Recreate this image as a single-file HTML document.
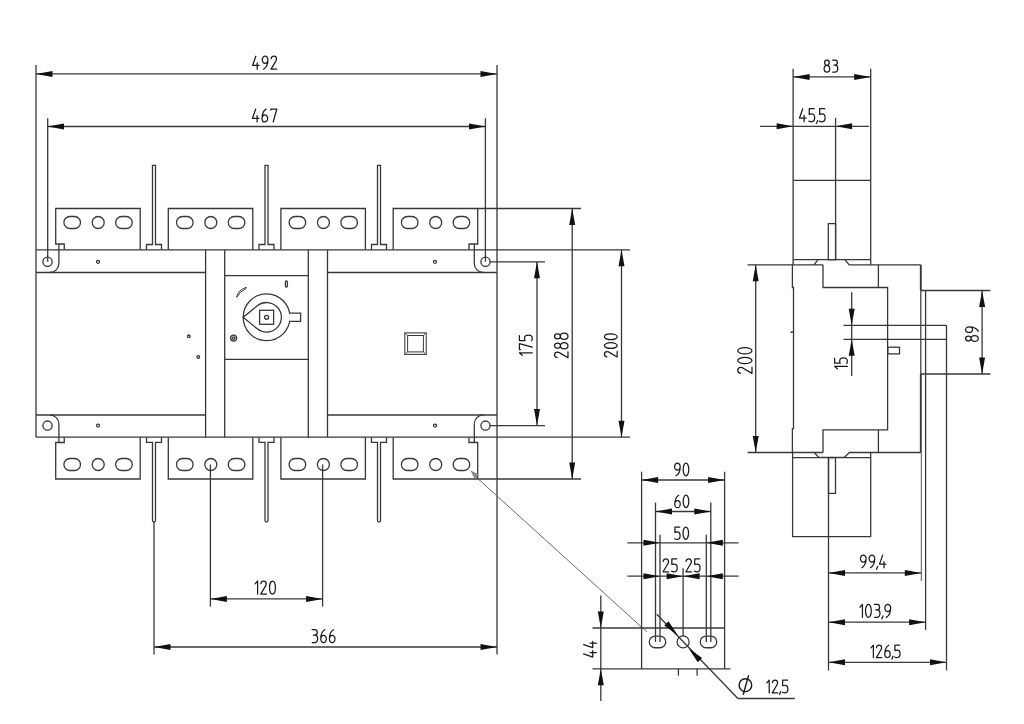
<!DOCTYPE html>
<html><head><meta charset="utf-8"><style>
html,body{margin:0;padding:0;background:#fff;width:1024px;height:724px;overflow:hidden}
svg{display:block}
.t{stroke:#1a1a1a;stroke-linecap:round;stroke-linejoin:round;fill:none}
</style></head><body>
<svg width="1024" height="724" viewBox="0 0 1024 724">
<g fill="none" stroke="#383838" stroke-width="1.3">
<line x1="36" y1="65" x2="36" y2="437.2"/>
<line x1="497" y1="65" x2="497" y2="654.5"/>
<line x1="36" y1="249.8" x2="630" y2="249.8"/>
<line x1="36" y1="437.2" x2="630" y2="437.2"/>
<line x1="36" y1="272.5" x2="205.6" y2="272.5"/>
<line x1="327.5" y1="272.5" x2="497" y2="272.5"/>
<line x1="36" y1="415" x2="205.6" y2="415"/>
<line x1="327.5" y1="415" x2="497" y2="415"/>
<line x1="205.6" y1="249.8" x2="205.6" y2="437.2"/>
<line x1="224.7" y1="249.8" x2="224.7" y2="437.2"/>
<line x1="308.3" y1="249.8" x2="308.3" y2="437.2"/>
<line x1="327.5" y1="249.8" x2="327.5" y2="437.2"/>
<line x1="224.7" y1="275.6" x2="308.3" y2="275.6"/>
<line x1="224.7" y1="359.3" x2="308.3" y2="359.3"/>
<path d="M58.9 244.2 L58.9 263.5 A9 9 0 0 1 49.9 272.5" fill="none"/>
<path d="M474.3 244.2 L474.3 263.5 A9 9 0 0 0 483.3 272.5" fill="none"/>
<path d="M49.9 415 A9 9 0 0 1 58.9 424 L58.9 442.7" fill="none"/>
<path d="M483.3 415 A9 9 0 0 0 474.3 424 L474.3 442.7" fill="none"/>
<circle cx="47.5" cy="261.8" r="4.6"/>
<circle cx="485.5" cy="261.8" r="4.6"/>
<circle cx="47.5" cy="425.6" r="4.6"/>
<circle cx="485.5" cy="425.6" r="4.6"/>
<circle cx="98" cy="261.8" r="1.5"/>
<circle cx="435" cy="261.8" r="1.5"/>
<circle cx="98" cy="425.6" r="1.5"/>
<circle cx="435" cy="425.6" r="1.5"/>
<circle cx="188.8" cy="336.3" r="1.3"/>
<circle cx="198.3" cy="357" r="1.3"/>
<path d="M140.2 249.8 L140.2 208.5 L55.7 208.5 L55.7 244 L64.25 244 L64.25 249.8" fill="none"/>
<path d="M140.2 437.2 L140.2 479 L55.7 479 L55.7 442.5 L64.25 442.5 L64.25 437.2" fill="none"/>
<rect x="63.90" y="216.50" width="16.6" height="12" rx="6.0" ry="6.0"/>
<circle cx="98.2" cy="222.5" r="6"/>
<rect x="115.65" y="216.50" width="16.6" height="12" rx="6.0" ry="6.0"/>
<rect x="63.90" y="458.50" width="16.6" height="12" rx="6.0" ry="6.0"/>
<circle cx="98.2" cy="464.5" r="6"/>
<rect x="115.65" y="458.50" width="16.6" height="12" rx="6.0" ry="6.0"/>
<path d="M168.3 249.8 L168.3 208.5 L252.8 208.5 L252.8 249.8" fill="none"/>
<path d="M168.3 437.2 L168.3 479 L252.8 479 L252.8 437.2" fill="none"/>
<rect x="176.50" y="216.50" width="16.6" height="12" rx="6.0" ry="6.0"/>
<circle cx="210.8" cy="222.5" r="6"/>
<rect x="228.25" y="216.50" width="16.6" height="12" rx="6.0" ry="6.0"/>
<rect x="176.50" y="458.50" width="16.6" height="12" rx="6.0" ry="6.0"/>
<circle cx="210.8" cy="464.5" r="6"/>
<rect x="228.25" y="458.50" width="16.6" height="12" rx="6.0" ry="6.0"/>
<path d="M280.9 249.8 L280.9 208.5 L365.4 208.5 L365.4 249.8" fill="none"/>
<path d="M280.9 437.2 L280.9 479 L365.4 479 L365.4 437.2" fill="none"/>
<rect x="289.10" y="216.50" width="16.6" height="12" rx="6.0" ry="6.0"/>
<circle cx="323.4" cy="222.5" r="6"/>
<rect x="340.85" y="216.50" width="16.6" height="12" rx="6.0" ry="6.0"/>
<rect x="289.10" y="458.50" width="16.6" height="12" rx="6.0" ry="6.0"/>
<circle cx="323.4" cy="464.5" r="6"/>
<rect x="340.85" y="458.50" width="16.6" height="12" rx="6.0" ry="6.0"/>
<path d="M393.2 249.8 L393.2 208.5 L477.7 208.5 L477.7 244 L469 244 L469 249.8" fill="none"/>
<path d="M393.2 437.2 L393.2 479 L477.7 479 L477.7 442.5 L469 442.5 L469 437.2" fill="none"/>
<rect x="401.40" y="216.50" width="16.6" height="12" rx="6.0" ry="6.0"/>
<circle cx="435.7" cy="222.5" r="6"/>
<rect x="453.15" y="216.50" width="16.6" height="12" rx="6.0" ry="6.0"/>
<rect x="401.40" y="458.50" width="16.6" height="12" rx="6.0" ry="6.0"/>
<circle cx="435.7" cy="464.5" r="6"/>
<rect x="453.15" y="458.50" width="16.6" height="12" rx="6.0" ry="6.0"/>
<path d="M146.5 249.8 L146.5 244.5 L152.5 244.5 L152.5 165.4 L155.5 165.4 L155.5 244.5 L161.5 244.5 L161.5 249.8" fill="none"/>
<path d="M146.5 437.2 L146.5 442.3 L152.5 442.3 L152.5 520.5 A1.5 1.5 0 0 0 155.5 520.5 L155.5 442.3 L161.5 442.3 L161.5 437.2" fill="none"/>
<path d="M259 249.8 L259 244.5 L265 244.5 L265 165.4 L268 165.4 L268 244.5 L274 244.5 L274 249.8" fill="none"/>
<path d="M259 437.2 L259 442.3 L265 442.3 L265 520.5 A1.5 1.5 0 0 0 268 520.5 L268 442.3 L274 442.3 L274 437.2" fill="none"/>
<path d="M371.5 249.8 L371.5 244.5 L377.5 244.5 L377.5 165.4 L380.5 165.4 L380.5 244.5 L386.5 244.5 L386.5 249.8" fill="none"/>
<path d="M371.5 437.2 L371.5 442.3 L377.5 442.3 L377.5 520.5 A1.5 1.5 0 0 0 380.5 520.5 L380.5 442.3 L386.5 442.3 L386.5 437.2" fill="none"/>
<circle cx="266.6" cy="317.3" r="23.4"/>
<path d="M289.1 313.1 L300.6 313.1 L300.6 321.3 L289.20000000000005 321.3" fill="#fff"/>
<path d="M243.2 317.3 L257.24 305.84 A14.8 14.8 0 1 1 257.24 328.76 Z" fill="none"/>
<rect x="259.6" y="310.3" width="14.00" height="14.00"/>
<circle cx="266.6" cy="317.3" r="2"/>
<path d="M236.6 297.2 Q237.8 290 246.3 287.3 L245.6 289 Q239.8 291.2 237.4 296.6 Z" fill="none" stroke-width="1.0"/>
<rect x="285.4" y="281" width="2" height="6" rx="1"/>
<circle cx="233.6" cy="338.1" r="3"/>
<circle cx="233.6" cy="338.1" r="1.3"/>
<rect x="404.8" y="332.9" width="21.4" height="21.5" stroke-width="1.05"/>
<rect x="407.6" y="335.5" width="15.8" height="16.4" stroke-width="1.0"/>
<line x1="404.8" y1="332.9" x2="407.6" y2="335.5" stroke-width="0.8"/>
<line x1="426.2" y1="332.9" x2="423.4" y2="335.5" stroke-width="0.8"/>
<line x1="404.8" y1="354.4" x2="407.6" y2="351.9" stroke-width="0.8"/>
<line x1="426.2" y1="354.4" x2="423.4" y2="351.9" stroke-width="0.8"/>
<line x1="36" y1="73.9" x2="497" y2="73.9"/>
<path d="M36.00 73.90L52.50 70.90L52.50 76.90Z" fill="#111" stroke="none"/>
<path d="M497.00 73.90L480.50 76.90L480.50 70.90Z" fill="#111" stroke="none"/>
<path class="t" transform="translate(252.60 56.23) scale(0.9962)" stroke-width="1.255" d="M 3.20 0.00 L 0.00 9.30 L 6.50 9.30 M 4.60 6.60 L 4.60 13.00 M9.60 3.60 A2.9 3.6 0 1 1 15.40 3.60 A2.9 3.6 0 1 1 9.60 3.60 M 15.40 3.60 C 15.40 7.80 13.90 11.30 11.00 13.00 M 18.60 2.50 C 18.90 0.80 20.00 0.00 21.30 0.00 C 22.90 0.00 24.00 1.10 24.00 2.80 C 24.00 3.80 23.60 4.60 23.00 5.40 L 18.50 13.00 L 24.20 13.00"/>
<line x1="47.7" y1="118.2" x2="47.7" y2="261.8"/>
<line x1="485.4" y1="118.2" x2="485.4" y2="261.8"/>
<line x1="47.5" y1="126.5" x2="485.5" y2="126.5"/>
<path d="M47.50 126.50L64.00 123.50L64.00 129.50Z" fill="#111" stroke="none"/>
<path d="M485.50 126.50L469.00 129.50L469.00 123.50Z" fill="#111" stroke="none"/>
<path class="t" transform="translate(252.50 109.03) scale(0.9962)" stroke-width="1.255" d="M 3.20 0.00 L 0.00 9.30 L 6.50 9.30 M 4.60 6.60 L 4.60 13.00 M 13.70 0.10 C 11.30 1.50 9.60 4.50 9.60 9.40 M9.60 9.40 A2.8 3.6 0 1 1 15.20 9.40 A2.8 3.6 0 1 1 9.60 9.40 M 18.30 1.00 L 18.30 0.00 L 24.40 0.00 L 20.80 13.00"/>
<line x1="477.5" y1="208.5" x2="581" y2="208.5"/>
<line x1="477.5" y1="479" x2="581" y2="479"/>
<line x1="489.8" y1="261.8" x2="545" y2="261.8"/>
<line x1="489.8" y1="425.6" x2="545" y2="425.6"/>
<line x1="537" y1="261.8" x2="537" y2="425.6"/>
<path d="M537.00 261.80L540.00 278.30L534.00 278.30Z" fill="#111" stroke="none"/>
<path d="M537.00 425.60L534.00 409.10L540.00 409.10Z" fill="#111" stroke="none"/>
<path class="t" transform="translate(519.42 355.23) rotate(-90) scale(0.9885)" stroke-width="1.265" d="M 0.00 2.80 L 2.50 0.00 L 2.50 13.00 M 5.60 1.00 L 5.60 0.00 L 11.70 0.00 L 8.10 13.00 M 19.90 0.00 L 14.90 0.00 L 14.90 5.70 C 15.70 5.30 16.50 5.20 17.30 5.20 C 19.10 5.20 20.30 6.90 20.30 9.10 C 20.30 11.50 19.10 13.00 17.20 13.00 C 16.20 13.00 15.40 12.80 14.60 12.40"/>
<line x1="572.2" y1="208.5" x2="572.2" y2="479"/>
<path d="M572.20 208.50L575.20 225.00L569.20 225.00Z" fill="#111" stroke="none"/>
<path d="M572.20 479.00L569.20 462.50L575.20 462.50Z" fill="#111" stroke="none"/>
<path class="t" transform="translate(554.52 357.76) rotate(-90) scale(1.0346)" stroke-width="1.208" d="M 0.10 2.50 C 0.40 0.80 1.50 0.00 2.80 0.00 C 4.40 0.00 5.50 1.10 5.50 2.80 C 5.50 3.80 5.10 4.60 4.50 5.40 L 0.00 13.00 L 5.70 13.00 M9.20 2.85 A2.5 2.85 0 1 1 14.20 2.85 A2.5 2.85 0 1 1 9.20 2.85 M8.70 9.35 A3.0 3.65 0 1 1 14.70 9.35 A3.0 3.65 0 1 1 8.70 9.35 M18.20 2.85 A2.5 2.85 0 1 1 23.20 2.85 A2.5 2.85 0 1 1 18.20 2.85 M17.70 9.35 A3.0 3.65 0 1 1 23.70 9.35 A3.0 3.65 0 1 1 17.70 9.35"/>
<line x1="621.5" y1="249.8" x2="621.5" y2="437.2"/>
<path d="M621.50 249.80L624.50 266.30L618.50 266.30Z" fill="#111" stroke="none"/>
<path d="M621.50 437.20L618.50 420.70L624.50 420.70Z" fill="#111" stroke="none"/>
<path class="t" transform="translate(604.42 357.02) rotate(-90) scale(0.9808)" stroke-width="1.275" d="M 0.10 2.50 C 0.40 0.80 1.50 0.00 2.80 0.00 C 4.40 0.00 5.50 1.10 5.50 2.80 C 5.50 3.80 5.10 4.60 4.50 5.40 L 0.00 13.00 L 5.70 13.00 M8.80 6.50 A2.9 6.5 0 1 1 14.60 6.50 A2.9 6.5 0 1 1 8.80 6.50 M17.70 6.50 A2.9 6.5 0 1 1 23.50 6.50 A2.9 6.5 0 1 1 17.70 6.50"/>
<line x1="210.4" y1="464.5" x2="210.4" y2="606.7"/>
<line x1="322.6" y1="464.5" x2="322.6" y2="606.7"/>
<line x1="210.4" y1="598.9" x2="322.6" y2="598.9"/>
<path d="M210.40 598.90L226.90 595.90L226.90 601.90Z" fill="#111" stroke="none"/>
<path d="M322.60 598.90L306.10 601.90L306.10 595.90Z" fill="#111" stroke="none"/>
<path class="t" transform="translate(255.11 581.02) scale(1.0038)" stroke-width="1.245" d="M 0.00 2.80 L 2.50 0.00 L 2.50 13.00 M 5.70 2.50 C 6.00 0.80 7.10 0.00 8.40 0.00 C 10.00 0.00 11.10 1.10 11.10 2.80 C 11.10 3.80 10.70 4.60 10.10 5.40 L 5.60 13.00 L 11.30 13.00 M14.40 6.50 A2.9 6.5 0 1 1 20.20 6.50 A2.9 6.5 0 1 1 14.40 6.50"/>
<line x1="154" y1="521" x2="154" y2="654.5"/>
<line x1="154" y1="647" x2="497" y2="647"/>
<path d="M154.00 647.00L170.50 644.00L170.50 650.00Z" fill="#111" stroke="none"/>
<path d="M497.00 647.00L480.50 650.00L480.50 644.00Z" fill="#111" stroke="none"/>
<path class="t" transform="translate(312.09 629.62) scale(0.9962)" stroke-width="1.255" d="M 0.00 0.00 L 2.80 0.00 C 4.30 0.00 5.20 1.20 5.20 2.80 C 5.20 4.40 4.10 5.60 2.60 5.60 L 1.30 5.60 M 2.60 5.60 C 4.40 5.60 5.60 7.20 5.60 9.20 C 5.60 11.50 4.30 13.00 2.40 13.00 L 0.10 13.00 M 12.80 0.10 C 10.40 1.50 8.70 4.50 8.70 9.40 M8.70 9.40 A2.8 3.6 0 1 1 14.30 9.40 A2.8 3.6 0 1 1 8.70 9.40 M 21.50 0.10 C 19.10 1.50 17.40 4.50 17.40 9.40 M17.40 9.40 A2.8 3.6 0 1 1 23.00 9.40 A2.8 3.6 0 1 1 17.40 9.40"/>
<line x1="475.5" y1="476.5" x2="646.7" y2="631.7" stroke-width="1.0" stroke="#6a6a6a"/>
<path d="M470.30 470.30L478.79 474.54L474.54 478.79Z" fill="#888" stroke="none"/>
<line x1="592.5" y1="628" x2="724.6" y2="628"/>
<line x1="592.5" y1="668.8" x2="730.4" y2="668.8"/>
<line x1="641.6" y1="471.7" x2="641.6" y2="668.8"/>
<line x1="724.6" y1="471.7" x2="724.6" y2="668.8"/>
<line x1="655.5" y1="502.6" x2="655.5" y2="642"/>
<line x1="710.8" y1="502.6" x2="710.8" y2="642"/>
<line x1="660" y1="534.7" x2="660" y2="642"/>
<line x1="706.3" y1="534.7" x2="706.3" y2="642"/>
<line x1="683.1" y1="568.3" x2="683.1" y2="636"/>
<rect x="649.25" y="636.05" width="16.5" height="11.7" rx="5.85" ry="5.85"/>
<circle cx="683.1" cy="641.9" r="6"/>
<rect x="700.25" y="636.05" width="16.5" height="11.7" rx="5.85" ry="5.85"/>
<line x1="678.4" y1="668.8" x2="678.4" y2="675.7"/>
<line x1="697.1" y1="668.8" x2="697.1" y2="675.7"/>
<line x1="641.6" y1="480" x2="724.6" y2="480"/>
<path d="M641.60 480.00L658.10 477.00L658.10 483.00Z" fill="#111" stroke="none"/>
<path d="M724.60 480.00L708.10 483.00L708.10 477.00Z" fill="#111" stroke="none"/>
<path class="t" transform="translate(674.60 463.23) scale(0.9654)" stroke-width="1.295" d="M0.00 3.60 A2.9 3.6 0 1 1 5.80 3.60 A2.9 3.6 0 1 1 0.00 3.60 M 5.80 3.60 C 5.80 7.80 4.30 11.30 1.40 13.00 M8.90 6.50 A2.9 6.5 0 1 1 14.70 6.50 A2.9 6.5 0 1 1 8.90 6.50"/>
<line x1="655.5" y1="511.5" x2="710.8" y2="511.5"/>
<path d="M655.50 511.50L672.00 508.50L672.00 514.50Z" fill="#111" stroke="none"/>
<path d="M710.80 511.50L694.30 514.50L694.30 508.50Z" fill="#111" stroke="none"/>
<path class="t" transform="translate(674.80 495.12) scale(0.9654)" stroke-width="1.295" d="M 4.10 0.10 C 1.70 1.50 0.00 4.50 0.00 9.40 M0.00 9.40 A2.8 3.6 0 1 1 5.60 9.40 A2.8 3.6 0 1 1 0.00 9.40 M8.70 6.50 A2.9 6.5 0 1 1 14.50 6.50 A2.9 6.5 0 1 1 8.70 6.50"/>
<line x1="627.4" y1="542.8" x2="738.6" y2="542.8"/>
<path d="M660.00 542.80L643.50 545.80L643.50 539.80Z" fill="#111" stroke="none"/>
<path d="M706.30 542.80L722.80 539.80L722.80 545.80Z" fill="#111" stroke="none"/>
<path class="t" transform="translate(674.86 527.02) scale(0.9500)" stroke-width="1.316" d="M 5.10 0.00 L 0.10 0.00 L 0.10 5.70 C 0.90 5.30 1.70 5.20 2.50 5.20 C 4.30 5.20 5.50 6.90 5.50 9.10 C 5.50 11.50 4.30 13.00 2.40 13.00 C 1.40 13.00 0.60 12.80 -0.20 12.40 M8.60 6.50 A2.9 6.5 0 1 1 14.40 6.50 A2.9 6.5 0 1 1 8.60 6.50"/>
<line x1="627.4" y1="576.2" x2="738.7" y2="576.2"/>
<path d="M660.00 576.20L643.50 579.20L643.50 573.20Z" fill="#111" stroke="none"/>
<path d="M683.10 576.20L666.60 579.20L666.60 573.20Z" fill="#111" stroke="none"/>
<path d="M683.10 576.20L699.60 573.20L699.60 579.20Z" fill="#111" stroke="none"/>
<path d="M706.30 576.20L722.80 573.20L722.80 579.20Z" fill="#111" stroke="none"/>
<path class="t" transform="translate(663.08 558.92) scale(0.9885)" stroke-width="1.265" d="M 0.10 2.50 C 0.40 0.80 1.50 0.00 2.80 0.00 C 4.40 0.00 5.50 1.10 5.50 2.80 C 5.50 3.80 5.10 4.60 4.50 5.40 L 0.00 13.00 L 5.70 13.00 M 13.90 0.00 L 8.90 0.00 L 8.90 5.70 C 9.70 5.30 10.50 5.20 11.30 5.20 C 13.10 5.20 14.30 6.90 14.30 9.10 C 14.30 11.50 13.10 13.00 11.20 13.00 C 10.20 13.00 9.40 12.80 8.60 12.40"/>
<path class="t" transform="translate(685.93 558.92) scale(0.9885)" stroke-width="1.265" d="M 0.10 2.50 C 0.40 0.80 1.50 0.00 2.80 0.00 C 4.40 0.00 5.50 1.10 5.50 2.80 C 5.50 3.80 5.10 4.60 4.50 5.40 L 0.00 13.00 L 5.70 13.00 M 13.90 0.00 L 8.90 0.00 L 8.90 5.70 C 9.70 5.30 10.50 5.20 11.30 5.20 C 13.10 5.20 14.30 6.90 14.30 9.10 C 14.30 11.50 13.10 13.00 11.20 13.00 C 10.20 13.00 9.40 12.80 8.60 12.40"/>
<line x1="600.8" y1="595.4" x2="600.8" y2="701"/>
<path d="M600.80 628.00L597.80 611.50L603.80 611.50Z" fill="#111" stroke="none"/>
<path d="M600.80 668.80L603.80 685.30L597.80 685.30Z" fill="#111" stroke="none"/>
<path class="t" transform="translate(583.62 657.10) rotate(-90) scale(0.9808)" stroke-width="1.275" d="M 3.20 0.00 L 0.00 9.30 L 6.50 9.30 M 4.60 6.60 L 4.60 13.00 M 12.80 0.00 L 9.60 9.30 L 16.10 9.30 M 14.20 6.60 L 14.20 13.00"/>
<line x1="656.8" y1="614.3" x2="737.9" y2="698.5"/>
<line x1="737.9" y1="698.5" x2="794.8" y2="698.5"/>
<path d="M677.80 635.20L664.19 625.40L668.51 621.23Z" fill="#111" stroke="none"/>
<path d="M688.50 648.30L702.11 658.10L697.79 662.27Z" fill="#111" stroke="none"/>
<path class="t" transform="translate(766.79 680.23) scale(0.9731)" stroke-width="1.285" d="M 0.00 2.80 L 2.50 0.00 L 2.50 13.00 M 5.70 2.50 C 6.00 0.80 7.10 0.00 8.40 0.00 C 10.00 0.00 11.10 1.10 11.10 2.80 C 11.10 3.80 10.70 4.60 10.10 5.40 L 5.60 13.00 L 11.30 13.00 M 14.30 11.60 L 13.10 14.60 M 21.30 0.00 L 16.30 0.00 L 16.30 5.70 C 17.10 5.30 17.90 5.20 18.70 5.20 C 20.50 5.20 21.70 6.90 21.70 9.10 C 21.70 11.50 20.50 13.00 18.60 13.00 C 17.60 13.00 16.80 12.80 16.00 12.40"/>
<line x1="793.1" y1="68.8" x2="793.1" y2="264.8"/>
<line x1="870.7" y1="68.8" x2="870.7" y2="264.8"/>
<line x1="835.6" y1="118" x2="835.6" y2="259.7"/>
<line x1="793.1" y1="180.3" x2="870.7" y2="180.3"/>
<line x1="793.1" y1="259.7" x2="870.7" y2="259.7"/>
<rect x="828.3" y="223.6" width="7.30" height="36.10"/>
<path d="M747.6 264.8 L823 264.8 M814 264.8 L818.1 259.7 M844.9 259.7 L849.2 264.8 L920.7 264.8" fill="none"/>
<path d="M792.4 264.8 L792.4 287.5 L793.5 287.5 L793.5 428.6 L792.4 428.6 L792.4 452.6" fill="none"/>
<line x1="790.5" y1="332.2" x2="793.5" y2="332.2" stroke-width="1.5"/>
<path d="M823 264.8 L823 287.5 L887.6 287.5 L887.6 429.9 L823 429.9 L823 452.6" fill="none"/>
<line x1="878.4" y1="264.8" x2="878.4" y2="287.5"/>
<line x1="878.4" y1="429.9" x2="878.4" y2="452.6"/>
<line x1="920.8" y1="264.8" x2="920.8" y2="290.5" stroke-width="1.9"/>
<line x1="920.8" y1="290.5" x2="920.8" y2="374" stroke-width="1.2"/>
<line x1="920.8" y1="374" x2="920.8" y2="452.6" stroke-width="1.9"/>
<line x1="921.3" y1="452.6" x2="921.3" y2="581" stroke-width="1.0" stroke="#555"/>
<line x1="925.6" y1="290.5" x2="925.6" y2="630"/>
<line x1="946.5" y1="325.3" x2="946.5" y2="670.6"/>
<line x1="920.8" y1="290.5" x2="990.4" y2="290.5"/>
<line x1="920.8" y1="374" x2="990.4" y2="374"/>
<line x1="982.1" y1="290.5" x2="982.1" y2="374"/>
<path d="M982.10 290.50L985.10 307.00L979.10 307.00Z" fill="#111" stroke="none"/>
<path d="M982.10 374.00L979.10 357.50L985.10 357.50Z" fill="#111" stroke="none"/>
<path class="t" transform="translate(965.52 341.31) rotate(-90) scale(0.9808)" stroke-width="1.275" d="M0.40 2.85 A2.5 2.85 0 1 1 5.40 2.85 A2.5 2.85 0 1 1 0.40 2.85 M-0.10 9.35 A3.0 3.65 0 1 1 5.90 9.35 A3.0 3.65 0 1 1 -0.10 9.35 M9.00 3.60 A2.9 3.6 0 1 1 14.80 3.60 A2.9 3.6 0 1 1 9.00 3.60 M 14.80 3.60 C 14.80 7.80 13.30 11.30 10.40 13.00"/>
<line x1="843.5" y1="325.3" x2="946.5" y2="325.3"/>
<line x1="843.5" y1="339.3" x2="946.5" y2="339.3"/>
<line x1="851.7" y1="292.2" x2="851.7" y2="376"/>
<path d="M851.70 325.30L848.70 308.80L854.70 308.80Z" fill="#111" stroke="none"/>
<path d="M851.70 339.30L854.70 355.80L848.70 355.80Z" fill="#111" stroke="none"/>
<path class="t" transform="translate(834.62 368.84) rotate(-90) scale(0.9808)" stroke-width="1.275" d="M 0.00 2.80 L 2.50 0.00 L 2.50 13.00 M 10.70 0.00 L 5.70 0.00 L 5.70 5.70 C 6.50 5.30 7.30 5.20 8.10 5.20 C 9.90 5.20 11.10 6.90 11.10 9.10 C 11.10 11.50 9.90 13.00 8.00 13.00 C 7.00 13.00 6.20 12.80 5.40 12.40"/>
<rect x="887.8" y="347.2" width="11.70" height="6.70"/>
<path d="M747.6 452.5 L823 452.5 M814.2 452.5 L818.8 457.4 L844.3 457.4 L849.5 452.5 L920.8 452.5" fill="none"/>
<path d="M792.6 452.6 L792.6 536.7 L870.7 536.7 L870.7 452.6" fill="none"/>
<line x1="792.6" y1="457.6" x2="870.7" y2="457.6"/>
<line x1="828.5" y1="457.6" x2="828.5" y2="670.6"/>
<rect x="828.5" y="457.6" width="7.00" height="35.80"/>
<line x1="755.7" y1="264.8" x2="755.7" y2="452.6"/>
<path d="M755.70 264.80L758.70 281.30L752.70 281.30Z" fill="#111" stroke="none"/>
<path d="M755.70 452.60L752.70 436.10L758.70 436.10Z" fill="#111" stroke="none"/>
<path class="t" transform="translate(737.73 373.38) rotate(-90) scale(1.0962)" stroke-width="1.140" d="M 0.10 2.50 C 0.40 0.80 1.50 0.00 2.80 0.00 C 4.40 0.00 5.50 1.10 5.50 2.80 C 5.50 3.80 5.10 4.60 4.50 5.40 L 0.00 13.00 L 5.70 13.00 M8.80 6.50 A2.9 6.5 0 1 1 14.60 6.50 A2.9 6.5 0 1 1 8.80 6.50 M17.70 6.50 A2.9 6.5 0 1 1 23.50 6.50 A2.9 6.5 0 1 1 17.70 6.50"/>
<line x1="793.1" y1="76.9" x2="870.7" y2="76.9"/>
<path d="M793.10 76.90L809.60 73.90L809.60 79.90Z" fill="#111" stroke="none"/>
<path d="M870.70 76.90L854.20 79.90L854.20 73.90Z" fill="#111" stroke="none"/>
<path class="t" transform="translate(824.23 60.02) scale(0.9269)" stroke-width="1.349" d="M0.40 2.85 A2.5 2.85 0 1 1 5.40 2.85 A2.5 2.85 0 1 1 0.40 2.85 M-0.10 9.35 A3.0 3.65 0 1 1 5.90 9.35 A3.0 3.65 0 1 1 -0.10 9.35 M 9.00 0.00 L 11.80 0.00 C 13.30 0.00 14.20 1.20 14.20 2.80 C 14.20 4.40 13.10 5.60 11.60 5.60 L 10.30 5.60 M 11.60 5.60 C 13.40 5.60 14.60 7.20 14.60 9.20 C 14.60 11.50 13.30 13.00 11.40 13.00 L 9.10 13.00"/>
<line x1="760" y1="126.3" x2="868.9" y2="126.3"/>
<path d="M793.10 126.30L776.60 129.30L776.60 123.30Z" fill="#111" stroke="none"/>
<path d="M835.60 126.30L852.10 123.30L852.10 129.30Z" fill="#111" stroke="none"/>
<path class="t" transform="translate(799.50 108.72) scale(1.0038)" stroke-width="1.245" d="M 3.20 0.00 L 0.00 9.30 L 6.50 9.30 M 4.60 6.60 L 4.60 13.00 M 14.70 0.00 L 9.70 0.00 L 9.70 5.70 C 10.50 5.30 11.30 5.20 12.10 5.20 C 13.90 5.20 15.10 6.90 15.10 9.10 C 15.10 11.50 13.90 13.00 12.00 13.00 C 11.00 13.00 10.20 12.80 9.40 12.40 M 18.10 11.60 L 16.90 14.60 M 25.10 0.00 L 20.10 0.00 L 20.10 5.70 C 20.90 5.30 21.70 5.20 22.50 5.20 C 24.30 5.20 25.50 6.90 25.50 9.10 C 25.50 11.50 24.30 13.00 22.40 13.00 C 21.40 13.00 20.60 12.80 19.80 12.40"/>
<line x1="828.5" y1="572.9" x2="921.3" y2="572.9"/>
<path d="M828.50 572.90L845.00 569.90L845.00 575.90Z" fill="#111" stroke="none"/>
<path d="M921.30 572.90L904.80 575.90L904.80 569.90Z" fill="#111" stroke="none"/>
<path class="t" transform="translate(860.45 555.12) scale(0.9731)" stroke-width="1.285" d="M0.00 3.60 A2.9 3.6 0 1 1 5.80 3.60 A2.9 3.6 0 1 1 0.00 3.60 M 5.80 3.60 C 5.80 7.80 4.30 11.30 1.40 13.00 M8.90 3.60 A2.9 3.6 0 1 1 14.70 3.60 A2.9 3.6 0 1 1 8.90 3.60 M 14.70 3.60 C 14.70 7.80 13.20 11.30 10.30 13.00 M 17.70 11.60 L 16.50 14.60 M 22.80 0.00 L 19.60 9.30 L 26.10 9.30 M 24.20 6.60 L 24.20 13.00"/>
<line x1="828.5" y1="622.2" x2="925.6" y2="622.2"/>
<path d="M828.50 622.20L845.00 619.20L845.00 625.20Z" fill="#111" stroke="none"/>
<path d="M925.60 622.20L909.10 625.20L909.10 619.20Z" fill="#111" stroke="none"/>
<path class="t" transform="translate(859.96 604.42) scale(0.9962)" stroke-width="1.255" d="M 0.00 2.80 L 2.50 0.00 L 2.50 13.00 M5.60 6.50 A2.9 6.5 0 1 1 11.40 6.50 A2.9 6.5 0 1 1 5.60 6.50 M 14.50 0.00 L 17.30 0.00 C 18.80 0.00 19.70 1.20 19.70 2.80 C 19.70 4.40 18.60 5.60 17.10 5.60 L 15.80 5.60 M 17.10 5.60 C 18.90 5.60 20.10 7.20 20.10 9.20 C 20.10 11.50 18.80 13.00 16.90 13.00 L 14.60 13.00 M 23.10 11.60 L 21.90 14.60 M25.00 3.60 A2.9 3.6 0 1 1 30.80 3.60 A2.9 3.6 0 1 1 25.00 3.60 M 30.80 3.60 C 30.80 7.80 29.30 11.30 26.40 13.00"/>
<line x1="828.5" y1="662.3" x2="946.5" y2="662.3"/>
<path d="M828.50 662.30L845.00 659.30L845.00 665.30Z" fill="#111" stroke="none"/>
<path d="M946.50 662.30L930.00 665.30L930.00 659.30Z" fill="#111" stroke="none"/>
<path class="t" transform="translate(870.99 645.12) scale(0.9577)" stroke-width="1.305" d="M 0.00 2.80 L 2.50 0.00 L 2.50 13.00 M 5.70 2.50 C 6.00 0.80 7.10 0.00 8.40 0.00 C 10.00 0.00 11.10 1.10 11.10 2.80 C 11.10 3.80 10.70 4.60 10.10 5.40 L 5.60 13.00 L 11.30 13.00 M 18.50 0.10 C 16.10 1.50 14.40 4.50 14.40 9.40 M14.40 9.40 A2.8 3.6 0 1 1 20.00 9.40 A2.8 3.6 0 1 1 14.40 9.40 M 23.00 11.60 L 21.80 14.60 M 30.00 0.00 L 25.00 0.00 L 25.00 5.70 C 25.80 5.30 26.60 5.20 27.40 5.20 C 29.20 5.20 30.40 6.90 30.40 9.10 C 30.40 11.50 29.20 13.00 27.30 13.00 C 26.30 13.00 25.50 12.80 24.70 12.40"/>
<ellipse cx="745.4" cy="685.2" rx="6.3" ry="6.5" stroke="#1a1a1a" stroke-width="1.4"/><line x1="748.6" y1="675.3" x2="743.2" y2="694.7" stroke="#1a1a1a" stroke-width="1.4"/>
</g>
</svg>
</body></html>
